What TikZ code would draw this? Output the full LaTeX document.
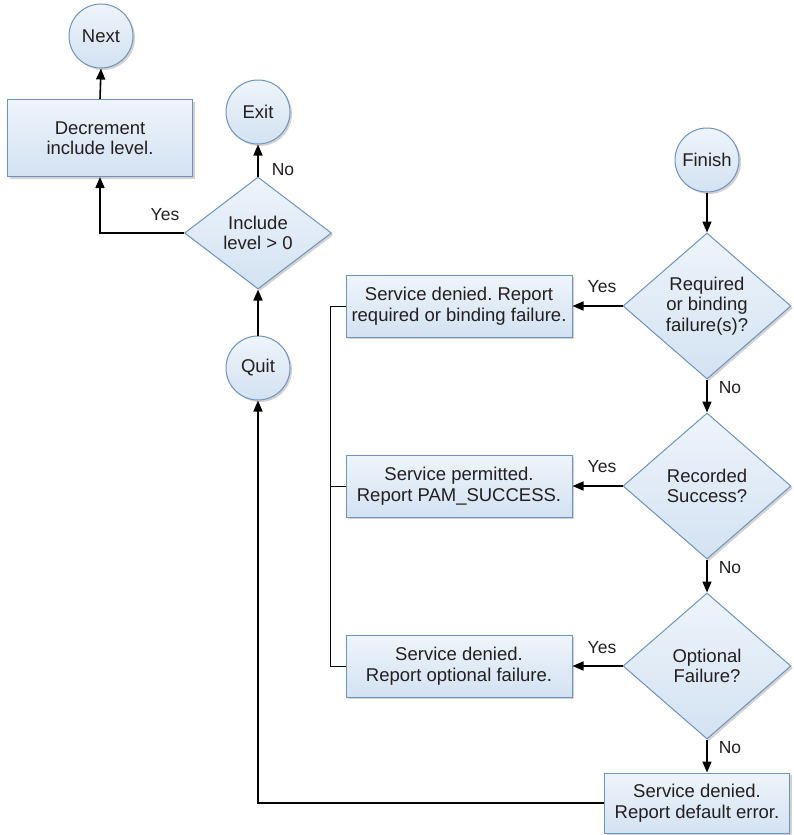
\documentclass[tikz,border=0pt]{standalone}
\usepackage{fontspec}
\setmainfont{Liberation Sans}
\usetikzlibrary{shapes.geometric,shadows,arrows.meta}
\definecolor{flowfill}{HTML}{D3E2F2}
\definecolor{flowlite}{HTML}{EEF4FB}
\definecolor{flowedge}{HTML}{6F93BF}
\definecolor{flowtext}{HTML}{231F20}

\tikzset{
  base/.style={draw=flowedge, line width=1pt, top color=flowlite, bottom color=flowfill,
    drop shadow={shadow xshift=2pt, shadow yshift=-2pt, fill=gray!70},
    text=flowtext, font=\fontsize{18.5}{20.5}\selectfont, align=center, inner sep=0pt},
  terminal/.style={base, circle, minimum size=64pt},
  task/.style={base, rectangle, minimum width=226pt, minimum height=62pt},
  test/.style={base, diamond, minimum width=168pt, minimum height=146pt},
  flow/.style={-{Triangle[length=11pt,width=9pt]}, line width=1.6pt},
  busline/.style={line width=0.8pt},
  answer/.style={text=flowtext, font=\fontsize{17.5}{20}\selectfont, inner sep=0pt},
}

\begin{document}
\frenchspacing
\begin{tikzpicture}[x=1pt, y=-1pt]
        \useasboundingbox (0,0) rectangle (793,835);

        % left column
        \node[terminal] (next) at (101,36) {Next};
        \node[task, minimum width=185pt, minimum height=77pt] (decr) at (100,138) {Decrement\\include level.};
        \node[terminal] (exit) at (258,112) {Exit};
        \node[test, minimum width=147pt, minimum height=112pt] (incl) at (258,233) {Include\\level > 0};
        \node[terminal] (quit) at (258,368) {Quit};

        % right column
        \node[terminal] (finish) at (707,160) {Finish};
        \node[test] (req) at (707,306) {Required\\or binding\\failure(s)?};
        \node[test] (rec) at (707,486) {Recorded\\Success?};
        \node[test] (opt) at (707,666) {Optional\\Failure?};
        \node[task, minimum width=185pt, minimum height=60pt] (deny4) at (697,803) {Service denied.\\Report default error.};

        \node[task] (deny1) at (459,306) {Service denied. Report\\required or binding failure.};
        \node[task] (permit) at (459,486) {Service permitted.\\Report PAM\_SUCCESS.};
        \node[task] (deny3) at (459,666) {Service denied.\\Report optional failure.};

        \coordinate (bustop) at (330,306);
        \coordinate (busbot) at (330,666);

        \draw[flow] (decr.north) -- (next.south);
        \draw[flow] (incl.west) -| (decr.south);
        \draw[flow] (incl.north) -- (exit.south);
        \draw[flow] (quit.north) -- (incl.south);

        \draw[flow] (finish.south) -- (req.north);
        \draw[flow] (req.west) -- (deny1.east);
        \draw[flow] (req.south) -- (rec.north);
        \draw[flow] (rec.west) -- (permit.east);
        \draw[flow] (rec.south) -- (opt.north);
        \draw[flow] (opt.west) -- (deny3.east);
        \draw[flow] (opt.south) -- (opt.south |- deny4.north);
        \draw[flow] (deny4.west) -| (quit.south);

        \draw[busline] (deny1.west) -- (bustop) -- (busbot) -- (deny3.west);
        \draw[busline] (permit.west) -- (permit.west -| bustop);

        % answers
        \node[answer] (y0) at (165,215) {Yes};
        \node[answer] (n0) at (283,170) {No};
        \node[answer] (y1) at (602,287) {Yes};
        \node[answer] (n1) at (730,388) {No};
        \node[answer] (y2) at (602,467) {Yes};
        \node[answer] (n2) at (730,568) {No};
        \node[answer] (y3) at (602,648) {Yes};
        \node[answer] (n3) at (730,748) {No};
    \end{tikzpicture}
\end{document}
